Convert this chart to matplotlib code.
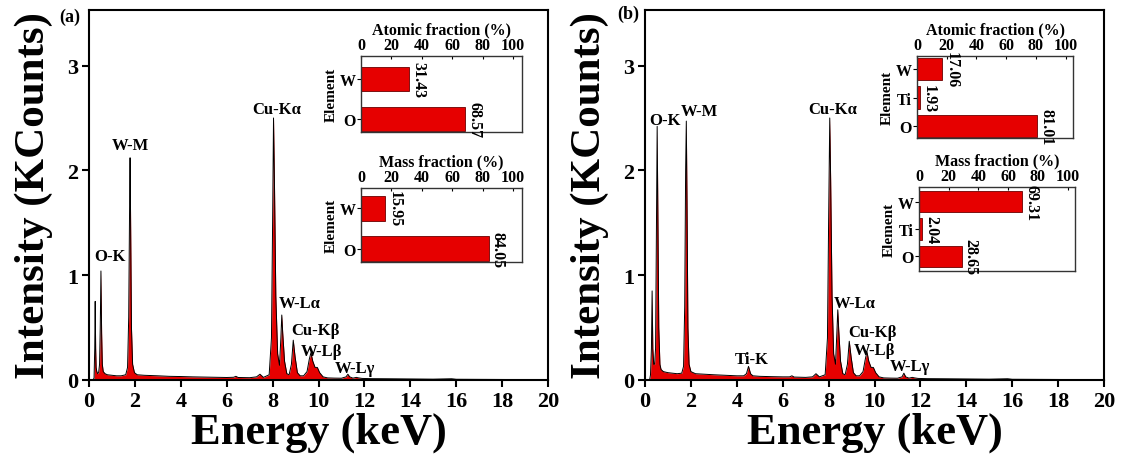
import matplotlib
matplotlib.use("Agg")
import matplotlib.pyplot as plt

plt.rcParams['font.family'] = ['Liberation Serif', 'DejaVu Serif']
plt.rcParams['font.weight'] = 'bold'
plt.rcParams['axes.labelweight'] = 'bold'

# ---------------- data ----------------
energy_a = [0.18, 0.22, 0.25, 0.27, 0.29, 0.31, 0.34, 0.38, 0.42, 0.46, 0.49, 0.52, 0.55, 0.58, 0.62,
            0.7, 0.8, 1.0, 1.2, 1.4, 1.6, 1.68, 1.73, 1.77, 1.79, 1.81, 1.85, 1.9, 1.98, 2.1, 2.4,
            3.0, 3.5, 4.0, 4.5, 5.0, 5.5, 6.0, 6.3, 6.4, 6.5, 7.0, 7.3, 7.45, 7.6, 7.85, 7.95,
            8.0, 8.04, 8.08, 8.14, 8.22, 8.3, 8.36, 8.40, 8.44, 8.52, 8.62, 8.72, 8.82, 8.9, 8.98,
            9.08, 9.2, 9.35, 9.5, 9.6, 9.67, 9.75, 9.85, 9.95, 10.05, 10.2, 10.4, 10.7, 11.0, 11.2,
            11.28, 11.36, 11.5, 11.65, 11.75, 11.9, 12.3, 13, 14, 15, 15.8, 16, 17, 18, 19, 20]
counts_a = [0.0, 0.02, 0.3, 0.75, 0.3, 0.12, 0.08, 0.06, 0.07, 0.15, 0.5, 1.04, 0.45, 0.15, 0.08,
            0.06, 0.05, 0.045, 0.04, 0.04, 0.05, 0.12, 0.6, 1.7, 2.12, 1.6, 0.5, 0.15, 0.07, 0.05, 0.045,
            0.04, 0.035, 0.033, 0.03, 0.028, 0.026, 0.024, 0.026, 0.035, 0.024, 0.022, 0.03, 0.055, 0.025, 0.05, 0.4,
            1.5, 2.5, 1.9, 0.8, 0.25, 0.14, 0.4, 0.62, 0.45, 0.18, 0.06, 0.05, 0.15, 0.38, 0.22,
            0.07, 0.04, 0.04, 0.08, 0.2, 0.26, 0.18, 0.12, 0.12, 0.07, 0.03, 0.02, 0.018, 0.017, 0.03,
            0.055, 0.03, 0.018, 0.025, 0.02, 0.015, 0.013, 0.012, 0.01, 0.008, 0.012, 0.007, 0.006, 0.005, 0.004, 0.004]

energy_b = [0.2, 0.24, 0.28, 0.31, 0.34, 0.38, 0.42, 0.46, 0.5, 0.53, 0.56, 0.6, 0.65, 0.7, 0.8,
            1.0, 1.2, 1.4, 1.6, 1.68, 1.73, 1.77, 1.8, 1.83, 1.87, 1.92, 2.0, 2.2, 2.6, 3.0, 3.5,
            4.0, 4.3, 4.42, 4.51, 4.6, 4.7, 5.0, 5.5, 6.0, 6.3, 6.4, 6.5, 7.0, 7.3, 7.45, 7.6, 7.85, 7.95,
            8.0, 8.05, 8.09, 8.15, 8.22, 8.3, 8.36, 8.40, 8.44, 8.52, 8.62, 8.72, 8.82, 8.9, 8.98,
            9.08, 9.2, 9.35, 9.5, 9.6, 9.67, 9.75, 9.85, 9.95, 10.05, 10.2, 10.4, 10.7, 11.0, 11.2,
            11.28, 11.36, 11.5, 11.65, 11.75, 11.9, 12.3, 13, 14, 15, 15.8, 16, 17, 18, 19, 20]
counts_b = [0.0, 0.05, 0.3, 0.85, 0.3, 0.15, 0.15, 0.3, 1.5, 2.42, 1.6, 0.5, 0.15, 0.1, 0.08,
            0.07, 0.065, 0.06, 0.065, 0.13, 0.7, 2.0, 2.47, 1.7, 0.5, 0.15, 0.08, 0.06, 0.055, 0.05, 0.045,
            0.04, 0.04, 0.06, 0.13, 0.06, 0.04, 0.035, 0.032, 0.03, 0.03, 0.04, 0.028, 0.025, 0.03, 0.06, 0.03, 0.05, 0.4,
            1.5, 2.5, 1.9, 0.8, 0.25, 0.15, 0.45, 0.67, 0.48, 0.18, 0.06, 0.05, 0.15, 0.37, 0.22,
            0.07, 0.04, 0.04, 0.08, 0.2, 0.27, 0.18, 0.12, 0.12, 0.07, 0.03, 0.02, 0.018, 0.017, 0.03,
            0.065, 0.03, 0.018, 0.025, 0.02, 0.015, 0.013, 0.012, 0.01, 0.008, 0.012, 0.007, 0.006, 0.005, 0.004, 0.004]

peak_labels_a = ["O-K", "W-M", "Cu-Kα", "W-Lα", "Cu-Kβ", "W-Lβ", "W-Lγ"]
peak_x_a = [0.93, 1.79, 8.17, 9.18, 9.88, 10.12, 11.6]
peak_y_a = [1.18, 2.24, 2.59, 0.73, 0.48, 0.275, 0.11]

peak_labels_b = ["O-K", "W-M", "Ti-K", "Cu-Kα", "W-Lα", "Cu-Kβ", "W-Lβ", "W-Lγ"]
peak_x_b = [0.85, 2.38, 4.65, 8.18, 9.12, 9.9, 9.98, 11.55]
peak_y_b = [2.48, 2.57, 0.2, 2.59, 0.73, 0.455, 0.29, 0.13]

elements_a = ["O", "W"]
atomic_a = [68.57, 31.43]
mass_a = [84.05, 15.95]

elements_b = ["O", "Ti", "W"]
atomic_b = [81.01, 1.93, 17.06]
mass_b = [28.65, 2.04, 69.31]

fraction_ticks = [0, 20, 40, 60, 80, 100]
energy_ticks = list(range(0, 21, 2))
intensity_ticks = [0, 1, 2, 3]

# ---------------- figure ----------------
W, H = 1123, 464
fig = plt.figure(figsize=(W / 100, H / 100), dpi=100)


def px_axes(left, top, right, bottom):
    return fig.add_axes([left / W, (H - bottom) / H, (right - left) / W, (bottom - top) / H])


RED = '#e60000'


def main_panel(ax, e, c, labels, lx, ly, tag, tagpos):
    ax.fill_between(e, 0, c, color=RED, lw=0)
    ax.plot(e, c, color='black', lw=0.7)
    ax.set_xlim(0, 20)
    ax.set_ylim(0, 3.53)
    ax.set_xticks(energy_ticks)
    ax.set_yticks(intensity_ticks)
    ax.tick_params(direction='out', length=5, width=1.5, labelsize=16, pad=3)
    for s in ax.spines.values():
        s.set_linewidth(1.5)
    ax.set_xlabel("Energy (keV)", fontsize=32, fontweight='bold', labelpad=0)
    ax.set_ylabel("Intensity (KCounts)", fontsize=31, fontweight='bold', labelpad=10)
    for t, x, y in zip(labels, lx, ly):
        ax.text(x, y, t, ha='center', va='center', fontsize=12, fontweight='bold')
    fig.text(tagpos[0] / W, 1 - tagpos[1] / H, tag, ha='center', va='center',
             fontsize=13, fontweight='bold')


def inset(ax, elems, vals, title, xmax, ylim, bh):
    pos = list(range(len(elems)))
    ax.barh(pos, vals, height=bh, color=RED, edgecolor='#6a0000', lw=0.6)
    ax.set_xlim(0, xmax)
    ax.set_ylim(*ylim)
    ax.set_yticks(pos)
    ax.set_yticklabels(elems)
    ax.set_xticks(fraction_ticks)
    ax.xaxis.tick_top()
    ax.xaxis.set_label_position('top')
    ax.set_xlabel(title, fontsize=11.5, fontweight='bold', labelpad=3)
    ax.set_ylabel("Element", fontsize=11, fontweight='bold', labelpad=1)
    ax.tick_params(axis='x', direction='in', length=2, labelsize=11.5, pad=2)
    ax.tick_params(axis='y', direction='out', length=3, labelsize=11.5, pad=1)
    for s in ax.spines.values():
        s.set_linewidth(1.0)
        s.set_color('#333333')
    for p, v in zip(pos, vals):
        ax.text(v + 0.8, p, f"{v:.2f}", rotation=-90, ha='left', va='center',
                fontsize=11.5, fontweight='bold')


ax_a = px_axes(89, 11, 548, 381)
main_panel(ax_a, energy_a, counts_a, peak_labels_a, peak_x_a, peak_y_a, "(a)", (70, 17))
ax_b = px_axes(645, 11, 1104, 381)
main_panel(ax_b, energy_b, counts_b, peak_labels_b, peak_x_b, peak_y_b, "(b)", (628, 14))

ia1 = px_axes(361, 57, 522, 133)
inset(ia1, elements_a, atomic_a, "Atomic fraction (%)", 106, (-0.33, 1.58), 0.62)
ia2 = px_axes(361, 189, 522, 263)
inset(ia2, elements_a, mass_a, "Mass fraction (%)", 106, (-0.32, 1.49), 0.61)
ib1 = px_axes(917, 57, 1073, 139)
inset(ib1, elements_b, atomic_b, "Atomic fraction (%)", 105, (-0.42, 2.46), 0.78)
ib2 = px_axes(919, 188, 1075, 272)
inset(ib2, elements_b, mass_b, "Mass fraction (%)", 105, (-0.55, 2.55), 0.78)

fig.savefig("out.png", dpi=100)
